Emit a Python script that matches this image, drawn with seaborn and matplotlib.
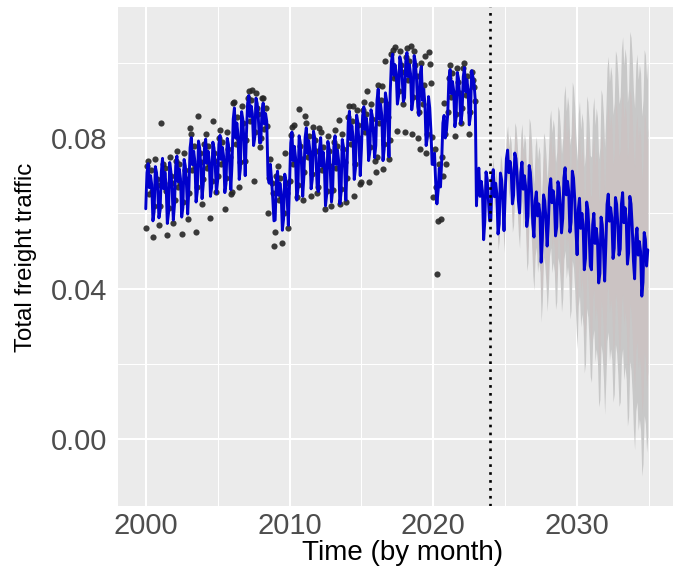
import numpy as np
import pandas as pd
import matplotlib
matplotlib.use("Agg")
import matplotlib.pyplot as plt
import seaborn as sns
from matplotlib.ticker import FixedLocator

# ---------------------------------------------------------------------------
# Monthly freight traffic series (values in units of 1e-3)
# ---------------------------------------------------------------------------
START_YEAR = 2000

# Model fit, Jan 2000 - Dec 2023 (one row per year)
fitted = [
    61.2, 70.8, 73.2, 66.8, 70.0, 67.6, 58.0, 60.4, 72.4, 70.8, 66.0, 58.8,
    60.8, 71.0, 74.6, 66.5, 70.9, 67.4, 57.3, 60.1, 73.5, 71.0, 66.4, 58.2,
    62.4, 72.6, 75.2, 68.4, 71.8, 69.2, 59.0, 61.5, 74.3, 72.6, 67.5, 59.8,
    66.6, 77.4, 80.1, 72.9, 76.5, 73.8, 63.0, 65.7, 79.2, 77.4, 72.0, 63.9,
    67.7, 77.3, 79.7, 73.3, 76.5, 74.1, 64.5, 66.9, 78.9, 77.3, 72.5, 65.3,
    68.7, 78.3, 80.7, 74.3, 77.5, 75.1, 65.5, 67.9, 79.9, 78.3, 73.5, 66.3,
    73.0, 85.0, 88.0, 80.0, 84.0, 81.0, 69.0, 72.0, 87.0, 85.0, 79.0, 70.0,
    80.8, 89.2, 91.3, 85.7, 88.5, 86.4, 78.0, 80.1, 90.6, 89.2, 85.0, 78.7,
    78.8, 87.2, 89.3, 83.7, 86.5, 84.4, 70.0, 68.0, 73.0, 69.0, 64.0, 58.0,
    58.2, 68.8, 71.2, 64.8, 68.0, 65.6, 55.5, 58.4, 70.4, 68.8, 64.0, 56.8,
    67.3, 78.7, 81.6, 74.0, 77.8, 74.9, 63.5, 66.4, 80.6, 78.7, 73.0, 64.5,
    69.9, 80.1, 82.7, 75.9, 79.3, 76.7, 66.5, 69.0, 81.8, 80.1, 75.0, 67.4,
    65.8, 77.2, 80.1, 72.5, 76.3, 73.4, 62.0, 64.9, 79.1, 77.2, 71.5, 63.0,
    66.3, 77.7, 80.6, 73.0, 76.8, 73.9, 62.5, 65.4, 79.6, 77.7, 72.0, 63.5,
    72.8, 84.2, 87.1, 79.5, 83.3, 80.4, 69.0, 71.9, 86.1, 84.2, 78.5, 70.0,
    77.0, 86.0, 88.3, 82.3, 85.3, 83.0, 74.0, 76.3, 87.5, 86.0, 81.5, 74.8,
    78.0, 90.0, 93.0, 85.0, 89.0, 86.0, 74.0, 77.0, 92.0, 90.0, 84.0, 75.0,
    91.8, 100.2, 102.3, 96.7, 99.5, 97.4, 89.0, 91.1, 101.6, 100.2, 96.0, 89.7,
    90.7, 100.3, 102.7, 96.3, 99.5, 97.1, 87.5, 89.9, 101.9, 100.3, 95.5, 88.3,
    86.0, 97.0, 99.0, 90.0, 93.0, 89.0, 78.0, 80.0, 91.0, 88.0, 82.0, 73.0,
    73.0, 76.0, 68.0, 62.5, 66.0, 72.0, 67.0, 74.0, 84.0, 86.0, 80.0, 82.0,
    86.2, 95.8, 98.2, 91.8, 95.0, 92.6, 83.0, 85.4, 97.4, 95.8, 91.0, 83.8,
    86.7, 96.3, 98.7, 92.3, 95.5, 93.1, 83.5, 85.9, 97.9, 96.3, 94.5, 90.0,
    62.0, 69.5, 72.0, 64.5, 68.5, 66.0, 53.0, 58.0, 71.0, 69.0, 63.5, 58.0,
]

# Recorded traffic, Jan 2000 - Dec 2022
observed = [
    56.0, 72.5, 74.0, 65.0, 71.5, 66.0, 53.6, 62.0, 74.5, 69.0, 67.5, 57.0,
    62.0, 84.0, 73.0, 68.0, 72.0, 66.0, 54.2, 61.5, 75.0, 70.0, 68.0, 57.4,
    63.5, 74.0, 76.5, 67.0, 73.0, 68.0, 54.5, 63.0, 76.0, 71.5, 69.0, 58.5,
    65.5, 82.7, 81.0, 71.5, 78.0, 72.5, 55.0, 67.0, 85.8, 76.0, 73.5, 62.6,
    69.0, 78.5, 81.0, 72.0, 78.0, 73.0, 58.8, 68.5, 84.5, 76.0, 74.0, 65.6,
    70.0, 80.0, 82.0, 73.0, 79.0, 74.0, 61.2, 69.5, 81.5, 77.0, 75.0, 65.0,
    65.6, 89.3, 89.5, 78.5, 85.5, 80.0, 67.1, 73.5, 88.5, 84.0, 80.5, 73.9,
    79.5, 90.5, 92.5, 84.5, 90.0, 92.8, 68.7, 81.5, 92.0, 88.0, 86.5, 77.5,
    80.0, 90.6, 90.5, 82.5, 88.0, 83.2, 60.1, 69.5, 74.5, 68.0, 65.5, 51.2,
    55.1, 70.0, 72.5, 63.5, 69.5, 64.5, 52.1, 60.0, 76.1, 68.0, 65.5, 56.0,
    68.5, 80.8, 83.0, 73.0, 83.4, 74.0, 64.3, 67.5, 87.8, 78.0, 74.5, 63.5,
    71.0, 85.8, 84.0, 75.0, 80.5, 76.0, 64.7, 70.5, 83.0, 79.5, 76.5, 65.3,
    67.0, 82.7, 81.5, 71.5, 77.5, 72.5, 61.1, 66.0, 80.5, 76.5, 72.5, 62.0,
    66.1, 79.0, 82.0, 72.0, 78.0, 84.8, 62.4, 66.5, 81.0, 77.0, 73.5, 63.0,
    69.3, 85.5, 88.5, 78.5, 84.5, 88.4, 64.5, 73.0, 87.5, 83.5, 80.0, 67.9,
    68.2, 87.5, 89.5, 81.5, 86.5, 92.4, 68.2, 77.5, 89.0, 85.0, 82.5, 74.0,
    70.9, 75.0, 94.0, 84.0, 90.0, 93.7, 71.9, 78.5, 100.5, 89.0, 85.5, 74.5,
    79.4, 102.4, 103.5, 96.0, 104.2, 96.5, 81.8, 92.5, 103.0, 99.5, 97.5, 89.0,
    81.7, 101.5, 104.0, 95.5, 100.5, 104.5, 81.2, 91.0, 103.1, 99.5, 96.5, 80.1,
    87.0, 77.2, 100.0, 89.0, 94.0, 101.8, 76.0, 81.0, 102.9, 99.7, 94.7, 80.3,
    64.3, 77.0, 67.0, 43.9, 57.9, 73.0, 58.6, 75.0, 70.0, 89.3, 81.0, 73.1,
    87.0, 95.9, 99.5, 91.0, 97.2, 92.0, 80.5, 86.5, 98.5, 95.0, 92.0, 83.9,
    88.0, 98.5, 100.0, 91.5, 96.5, 92.5, 81.0, 87.0, 97.6, 95.5, 93.5, 89.7,
]

# Point forecast, Jan 2024 - Dec 2034
forecast = [
    58.1, 68.9, 71.6, 64.4, 68.0, 65.3, 54.5, 57.2, 70.7, 68.9, 63.5, 55.4,
    65.5, 74.5, 76.8, 70.8, 73.8, 71.5, 62.5, 64.8, 76.0, 74.5, 70.0, 63.3,
    60.1, 70.9, 73.6, 66.4, 70.0, 67.3, 56.5, 59.2, 72.7, 70.9, 65.5, 57.4,
    53.7, 63.3, 65.7, 59.3, 62.5, 60.1, 47.0, 52.9, 64.9, 63.3, 58.5, 51.3,
    57.2, 66.8, 69.2, 62.8, 66.0, 63.6, 54.0, 56.4, 68.4, 66.8, 62.0, 54.8,
    58.6, 69.4, 72.1, 64.9, 68.5, 65.8, 55.0, 57.7, 71.2, 69.4, 64.0, 55.9,
    49.0, 61.0, 64.0, 56.0, 60.0, 57.0, 45.0, 48.0, 63.0, 61.0, 55.0, 46.0,
    45.0, 57.0, 60.0, 52.0, 56.0, 53.0, 41.5, 44.0, 59.0, 57.0, 51.0, 42.0,
    51.6, 62.4, 65.1, 57.9, 61.5, 58.8, 48.0, 50.7, 64.2, 62.4, 57.0, 48.9,
    50.5, 62.5, 65.5, 57.5, 61.5, 58.5, 46.5, 49.5, 64.5, 62.5, 56.5, 47.5,
    42.6, 53.4, 56.1, 48.9, 52.5, 49.8, 38.0, 41.7, 54.9, 53.1, 46.0, 50.3,
]

# Half-widths of the 95 % prediction interval
pi95_half = [
    2.0, 2.6, 3.0, 3.4, 3.6, 4.0, 4.3, 4.5, 4.9, 5.1, 5.5, 5.8,
    6.0, 6.3, 6.5, 6.8, 7.0, 7.3, 7.5, 7.9, 8.1, 8.4, 8.8, 9.0,
    9.4, 9.9, 10.2, 10.6, 11.1, 11.4, 11.8, 12.3, 12.6, 13.0, 13.5, 13.8,
    14.1, 14.5, 14.7, 15.0, 15.4, 15.6, 15.9, 16.3, 16.5, 16.8, 17.2, 17.4,
    17.7, 18.1, 18.3, 18.6, 19.0, 19.2, 19.5, 19.9, 20.1, 20.4, 20.8, 21.0,
    21.3, 21.7, 21.9, 22.2, 22.6, 22.8, 23.1, 23.5, 23.7, 24.0, 24.4, 24.6,
    25.0, 25.5, 25.8, 26.2, 26.7, 27.0, 27.4, 27.9, 28.2, 28.6, 29.1, 29.4,
    29.9, 30.5, 30.9, 31.4, 32.0, 32.4, 32.9, 33.5, 33.9, 34.4, 35.0, 35.4,
    35.8, 36.3, 36.6, 37.0, 37.5, 37.8, 38.2, 38.7, 39.0, 39.4, 39.9, 40.2,
    40.6, 41.1, 41.4, 41.8, 42.3, 42.6, 43.0, 43.5, 43.8, 44.2, 44.7, 45.0,
    45.4, 45.9, 46.2, 46.6, 47.1, 47.4, 47.8, 48.3, 48.6, 49.0, 49.5, 49.8,
]

# Half-widths of the 80 % prediction interval
pi80_half = [
    1.3, 1.7, 2.0, 2.2, 2.3, 2.6, 2.8, 2.9, 3.2, 3.3, 3.6, 3.8,
    3.9, 4.1, 4.2, 4.4, 4.6, 4.8, 4.9, 5.1, 5.3, 5.5, 5.7, 5.9,
    6.1, 6.4, 6.6, 6.9, 7.2, 7.4, 7.7, 8.0, 8.2, 8.5, 8.8, 9.0,
    9.2, 9.4, 9.6, 9.8, 10.0, 10.1, 10.3, 10.6, 10.7, 10.9, 11.2, 11.3,
    11.5, 11.8, 11.9, 12.1, 12.4, 12.5, 12.7, 12.9, 13.1, 13.3, 13.5, 13.7,
    13.8, 14.1, 14.2, 14.4, 14.7, 14.8, 15.0, 15.3, 15.4, 15.6, 15.9, 16.0,
    16.3, 16.6, 16.8, 17.0, 17.4, 17.6, 17.8, 18.1, 18.3, 18.6, 18.9, 19.1,
    19.4, 19.8, 20.1, 20.4, 20.8, 21.1, 21.4, 21.8, 22.0, 22.4, 22.8, 23.0,
    23.3, 23.6, 23.8, 24.1, 24.4, 24.6, 24.8, 25.2, 25.4, 25.6, 25.9, 26.1,
    26.4, 26.7, 26.9, 27.2, 27.5, 27.7, 28.0, 28.3, 28.5, 28.7, 29.1, 29.3,
    29.5, 29.8, 30.0, 30.3, 30.6, 30.8, 31.1, 31.4, 31.6, 31.9, 32.2, 32.4,
]

FORECAST_ORIGIN = 2023 + 11 / 12          # last month before the forecast
x_ticks = [2000, 2010, 2020, 2030]
x_minor = [2005, 2015, 2025, 2035]
y_ticks = [0.00, 0.04, 0.08]
y_minor = [0.02, 0.06, 0.10]

# ---------------------------------------------------------------------------
# Tidy frames
# ---------------------------------------------------------------------------
SCALE = 1e-3
fit_arr = np.asarray(fitted) * SCALE
obs_arr = np.asarray(observed) * SCALE
fc_arr = np.asarray(forecast) * SCALE
h95 = np.asarray(pi95_half) * SCALE
h80 = np.asarray(pi80_half) * SCALE

t_fit = START_YEAR + np.arange(len(fit_arr)) / 12
t_obs = START_YEAR + np.arange(len(obs_arr)) / 12
t_fc = t_fit[-1] + (np.arange(len(fc_arr)) + 1) / 12

obs_df = pd.DataFrame({"time": t_obs, "traffic": obs_arr})
line_df = pd.DataFrame({"time": np.concatenate([t_fit, t_fc]),
                        "traffic": np.concatenate([fit_arr, fc_arr])})
fc_df = pd.DataFrame({"time": t_fc, "mean": fc_arr,
                      "lo95": fc_arr - h95, "hi95": fc_arr + h95,
                      "lo80": fc_arr - h80, "hi80": fc_arr + h80})

# ---------------------------------------------------------------------------
# Figure
# ---------------------------------------------------------------------------
sns.set_theme(style="darkgrid", rc={
    "axes.facecolor": "#EBEBEB",
    "figure.facecolor": "white",
    "grid.color": "white",
})
plt.rcParams["font.family"] = ["Liberation Sans", "DejaVu Sans"]

fig = plt.figure(figsize=(6.8, 5.68), dpi=100)
ax = fig.add_axes([118 / 680, 62 / 568, 555 / 680, 499 / 568])

# prediction intervals
ax.fill_between(fc_df["time"], fc_df["lo95"], fc_df["hi95"],
                color="#C8C8C8", linewidth=0, zorder=1)
ax.fill_between(fc_df["time"], fc_df["lo80"], fc_df["hi80"],
                color="#CBC3C3", linewidth=0, zorder=1.1)

sns.scatterplot(data=obs_df, x="time", y="traffic", ax=ax, color="#262626",
                s=20, linewidth=0, alpha=0.9, zorder=2, legend=False)
sns.lineplot(data=line_df, x="time", y="traffic", ax=ax, color="#0000CC",
             linewidth=2.1, estimator=None, sort=False, zorder=3, legend=False)

ax.axvline(FORECAST_ORIGIN, color="black", linewidth=1.9,
           linestyle=(0, (1, 2)), dash_capstyle="butt", zorder=4)

# scales
ax.set_xlim(1998.07, 2036.67)
ax.set_ylim(-0.01774, 0.1148)
ax.xaxis.set_major_locator(FixedLocator(x_ticks))
ax.xaxis.set_minor_locator(FixedLocator(x_minor))
ax.yaxis.set_major_locator(FixedLocator(y_ticks))
ax.yaxis.set_minor_locator(FixedLocator(y_minor))
ax.set_xticklabels([str(v) for v in x_ticks])
ax.set_yticklabels([f"{v:.2f}" for v in y_ticks])

ax.grid(which="major", color="white", linewidth=1.5)
ax.grid(which="minor", color="white", linewidth=0.75)
ax.set_axisbelow(True)
for s in ax.spines.values():
    s.set_visible(False)

ax.tick_params(which="major", length=3.6, width=1.0, color="#333333",
               labelcolor="#4D4D4D", labelsize=21)
ax.tick_params(axis="x", which="major", pad=0.5)
ax.tick_params(axis="y", which="major", pad=4)
ax.tick_params(which="minor", length=0)

ax.set_xlabel("Time (by month)", fontsize=20, color="black")
ax.set_ylabel("Total freight traffic", fontsize=17.3, color="black")
ax.xaxis.label.set_va("center")
ax.yaxis.label.set_va("center")
ax.xaxis.set_label_coords((403 - 118) / 555, (506 - 553) / 499)
ax.yaxis.set_label_coords((26 - 118) / 555, (506 - 257) / 499)

fig.savefig("out.png", dpi=100)
